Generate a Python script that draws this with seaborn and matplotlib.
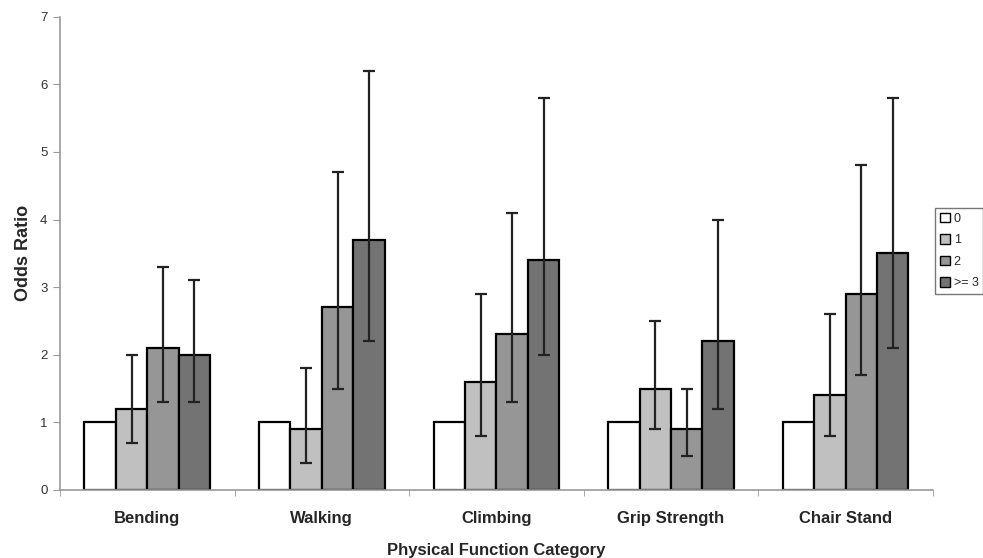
import numpy as np
import pandas as pd
import seaborn as sns
import matplotlib.pyplot as plt
from matplotlib.patches import Patch

categories = ["Bending", "Walking", "Climbing", "Grip Strength", "Chair Stand"]
groups = ["0", "1", "2", ">= 3"]

# odds ratios per group, one list per category order
or_0 = [1.0, 1.0, 1.0, 1.0, 1.0]
or_1 = [1.2, 0.9, 1.6, 1.5, 1.4]
or_2 = [2.1, 2.7, 2.3, 0.9, 2.9]
or_3 = [2.0, 3.7, 3.4, 2.2, 3.5]

# confidence limits (group 0 is the reference, no interval)
lo_1 = [0.7, 0.4, 0.8, 0.9, 0.8]
hi_1 = [2.0, 1.8, 2.9, 2.5, 2.6]
lo_2 = [1.3, 1.5, 1.3, 0.5, 1.7]
hi_2 = [3.3, 4.7, 4.1, 1.5, 4.8]
lo_3 = [1.3, 2.2, 2.0, 1.2, 2.1]
hi_3 = [3.1, 6.2, 5.8, 4.0, 5.8]

colors = ["#ffffff", "#c0c0c0", "#969696", "#737373"]

df = pd.DataFrame({
    "cat": categories * 4,
    "group": [g for g in groups for _ in categories],
    "odds": or_0 + or_1 + or_2 + or_3,
})

sns.set_style("white")
plt.rcParams["font.family"] = ["Liberation Sans", "DejaVu Sans"]

fig = plt.figure(figsize=(9.83, 5.58), dpi=100)
ax = fig.add_axes([0.061, 0.122, 0.888, 0.848])

sns.barplot(data=df, x="cat", y="odds", hue="group", order=categories,
            hue_order=groups, palette=colors, edgecolor="black",
            linewidth=1.6, width=0.72, gap=0, errorbar=None, legend=False, ax=ax)

# error bars placed on the bars seaborn drew
lows = [None, lo_1, lo_2, lo_3]
highs = [None, hi_1, hi_2, hi_3]
vals = [or_0, or_1, or_2, or_3]
bar_conts = list(ax.containers)
for k, cont in enumerate(bar_conts):
    if lows[k] is None:
        continue
    xs = [p.get_x() + p.get_width() / 2 for p in cont.patches]
    v = np.array(vals[k])
    err = [v - np.array(lows[k]), np.array(highs[k]) - v]
    ax.errorbar(xs, v, yerr=err, fmt="none", ecolor="#222222",
                elinewidth=1.6, capsize=4.5, capthick=1.6, zorder=5)

ax.set_ylim(0, 7)
ax.set_xlim(-0.5, 4.5)
ax.set_yticks(range(0, 8))
for s in ["top", "right"]:
    ax.spines[s].set_visible(False)
for s in ["left", "bottom"]:
    ax.spines[s].set_color("#999999")
    ax.spines[s].set_linewidth(1.2)

ax.tick_params(axis="y", left=True, length=5, color="#999999",
               labelsize=9.5, labelcolor="#333333", pad=4)
ax.tick_params(axis="x", bottom=False, labelsize=12, pad=12)
ax.set_xticks(np.arange(-0.5, 5.0, 1.0), minor=True)
ax.tick_params(axis="x", which="minor", bottom=True, length=4, color="#999999")
for lab in ax.get_xticklabels():
    lab.set_fontweight("bold")

ax.set_xlabel("Physical Function Category", fontsize=12, fontweight="bold", labelpad=12)
ax.set_ylabel("Odds Ratio", fontsize=13, fontweight="bold", labelpad=6)

handles = [Patch(facecolor=c, edgecolor="black", linewidth=1.0) for c in colors]
fig.legend(handles, groups, loc="upper left", bbox_to_anchor=(0.951, 0.628),
           fontsize=9, frameon=True, fancybox=False, edgecolor="#555555",
           handlelength=0.8, handleheight=0.8, handletextpad=0.3,
           borderpad=0.4, labelspacing=0.75, borderaxespad=0)

fig.savefig("out.png", dpi=100)
